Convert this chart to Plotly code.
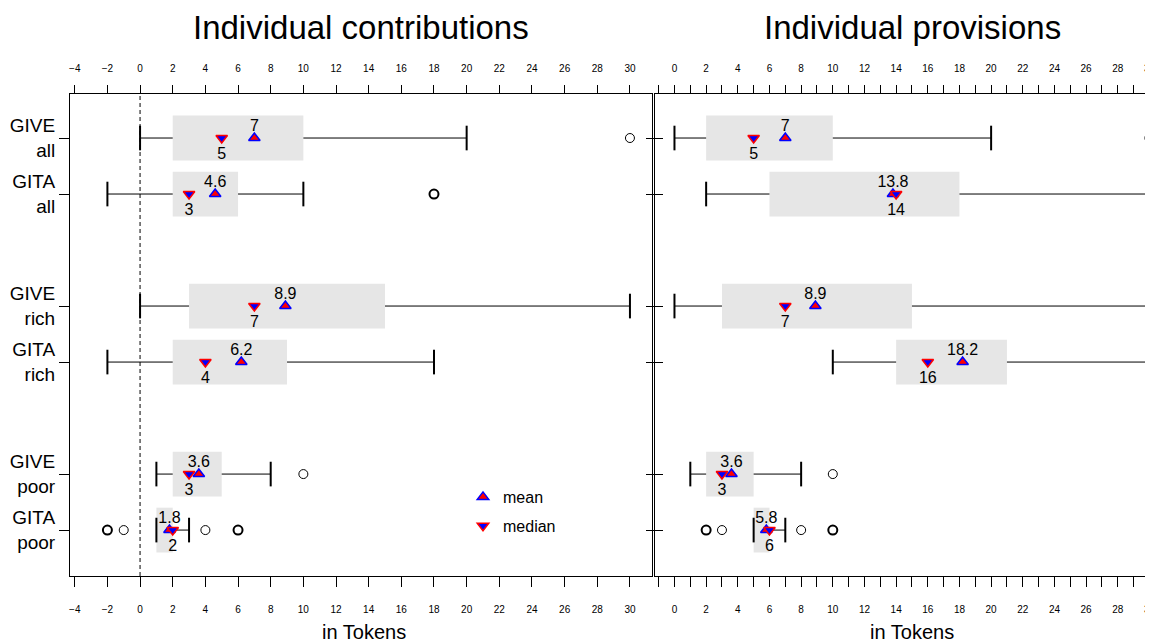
import plotly.graph_objects as go

groups = ["GIVE<br>all", "GITA<br>all", "GIVE<br>rich", "GITA<br>rich", "GIVE<br>poor", "GITA<br>poor"]
ypos = [0, 1, 3, 4, 6, 7]

# Individual contributions
c_lo = [0, -2, 0, -2, 1, 1]
c_q1 = [2, 2, 3, 2, 2, 1]
c_q3 = [10, 6, 15, 9, 5, 2]
c_hi = [20, 10, 30, 18, 8, 3]
c_mean = [7, 4.6, 8.9, 6.2, 3.6, 1.8]
c_median = [5, 3, 7, 4, 3, 2]
c_out = [[30], [18, 18], [], [], [10], [-2, -2, -1, 4, 6, 6]]

# Individual provisions
p_lo = [0, 2, 0, 10, 1, 5]
p_q1 = [2, 6, 3, 14, 2, 5]
p_q3 = [10, 18, 15, 21, 5, 6]
p_hi = [20, 30, 30, 30, 8, 7]
p_mean = [7, 13.8, 8.9, 18.2, 3.6, 5.8]
p_median = [5, 14, 7, 16, 3, 6]
p_out = [[30], [], [], [], [10], [2, 2, 3, 8, 10, 10]]

W, H = 1153, 644
OFF = 8  # page body margin in the browser
FONT = "Liberation Sans, Arial, Helvetica, sans-serif"
CAP = 0.22


def fx(px):
    return (px - OFF) / W


def fy(py):
    return 1 - (py - OFF) / H


fig = go.Figure()


def add_panel(lo, q1, q3, hi, mean, median, outs, xa, ya, legend):
    # boxes
    fig.add_trace(go.Bar(
        y=ypos, x=[b - a for a, b in zip(q1, q3)], base=q1, orientation="h",
        width=0.8, marker=dict(color="#e6e6e6", line=dict(width=0)),
        showlegend=False, hoverinfo="skip", xaxis=xa, yaxis=ya))
    # whiskers
    wx, wy = [], []
    for y, a, b, c, d in zip(ypos, lo, q1, q3, hi):
        wx += [a, b, None, c, d, None]
        wy += [y, y, None, y, y, None]
    fig.add_trace(go.Scatter(x=wx, y=wy, mode="lines", line=dict(color="black", width=1),
                             showlegend=False, hoverinfo="skip", xaxis=xa, yaxis=ya))
    # caps
    cx, cy = [], []
    for y, a, d in zip(ypos, lo, hi):
        cx += [a, a, None, d, d, None]
        cy += [y - CAP, y + CAP, None, y - CAP, y + CAP, None]
    fig.add_trace(go.Scatter(x=cx, y=cy, mode="lines", line=dict(color="black", width=2),
                             showlegend=False, hoverinfo="skip", xaxis=xa, yaxis=ya))
    # outliers
    ox, oy, ow = [], [], []
    for y, vals in zip(ypos, outs):
        for v in sorted(set(vals)):
            ox.append(v)
            oy.append(y)
            ow.append(2 if vals.count(v) > 1 else 1)
    fig.add_trace(go.Scatter(x=ox, y=oy, mode="markers",
                             marker=dict(symbol="circle-open", size=9, color="black",
                                         line=dict(width=ow, color="black")),
                             showlegend=False, hoverinfo="skip", xaxis=xa, yaxis=ya))
    # mean markers
    fig.add_trace(go.Scatter(x=mean, y=ypos, mode="markers", name="mean",
                             marker=dict(symbol="triangle-up", size=10, color="red",
                                         line=dict(color="blue", width=1.5)),
                             showlegend=legend, legendgroup="a", xaxis=xa, yaxis=ya))
    # median markers
    fig.add_trace(go.Scatter(x=median, y=ypos, mode="markers", name="median",
                             marker=dict(symbol="triangle-down", size=10, color="blue",
                                         line=dict(color="red", width=1.5)),
                             showlegend=legend, legendgroup="b", xaxis=xa, yaxis=ya))
    # labels (invisible markers set the text offset)
    fig.add_trace(go.Scatter(x=mean, y=ypos, mode="markers+text", text=[f"{v:g}" for v in mean],
                             textposition="top center",
                             marker=dict(size=4, color="rgba(0,0,0,0)"),
                             textfont=dict(size=16, color="black", family=FONT),
                             showlegend=False, hoverinfo="skip", xaxis=xa, yaxis=ya))
    fig.add_trace(go.Scatter(x=median, y=ypos, mode="markers+text", text=[f"{v:g}" for v in median],
                             textposition="bottom center",
                             marker=dict(size=12, color="rgba(0,0,0,0)"),
                             textfont=dict(size=16, color="black", family=FONT),
                             showlegend=False, hoverinfo="skip", xaxis=xa, yaxis=ya))


add_panel(c_lo, c_q1, c_q3, c_hi, c_mean, c_median, c_out, "x", "y", True)
add_panel(p_lo, p_q1, p_q3, p_hi, p_mean, p_median, p_out, "x2", "y2", False)

# ranges
L_RANGE = [-4.29, 31.35]
R_RANGE = [-1.23, 30.73]
Y_RANGE = [7.82, -0.786]
ydom = [fy(576), fy(94)]
ldom = [fx(70), fx(652)]
rdom = [fx(655), 1.0]

tickfont = dict(size=10, color="black", family=FONT)
lticks = list(range(-4, 31, 2))
rticks = list(range(0, 31, 2))

common_x = dict(showgrid=False, zeroline=False, ticks="outside", tickcolor="black",
                tickwidth=1, tickfont=tickfont, fixedrange=True, automargin=False)

fig.update_layout(
    width=W, height=H,
    margin=dict(l=0, r=0, t=0, b=0, autoexpand=False),
    paper_bgcolor="white", plot_bgcolor="white",
    barmode="overlay",
    font=dict(family=FONT, color="black"),
    xaxis=dict(domain=ldom, range=L_RANGE, anchor="y", tickvals=lticks, ticklen=10,
               ticklabelstandoff=14,
               showline=True, linecolor="black", linewidth=1, mirror=True, **common_x),
    xaxis3=dict(overlaying="x", side="top", range=L_RANGE, anchor="y", tickvals=lticks,
                ticklen=8, ticklabelstandoff=9, showline=False, **common_x),
    xaxis2=dict(domain=rdom, range=R_RANGE, anchor="y2", tickvals=rticks, ticklen=10,
                ticklabelstandoff=14,
                minor=dict(dtick=1, tick0=0, ticks="outside", ticklen=10, tickcolor="black"),
                showline=True, linecolor="black", linewidth=1, mirror=True, **common_x),
    xaxis4=dict(overlaying="x2", side="top", range=R_RANGE, anchor="y2", tickvals=rticks,
                ticklen=8, ticklabelstandoff=9,
                minor=dict(dtick=1, tick0=0, ticks="outside", ticklen=8, tickcolor="black"),
                showline=False, **common_x),
    yaxis=dict(domain=ydom, range=Y_RANGE, anchor="x", tickvals=ypos, ticktext=groups,
               ticks="outside", ticklen=10, tickcolor="black", showline=True, linecolor="black",
               mirror="ticks", showgrid=False, zeroline=False, automargin=False,
               tickfont=dict(size=19, color="black", family=FONT), fixedrange=True),
    yaxis2=dict(domain=ydom, range=Y_RANGE, anchor="x2", tickvals=ypos, showticklabels=False,
                ticks="outside", ticklen=8, tickcolor="black", showline=True, linecolor="black",
                mirror=False, showgrid=False, zeroline=False, fixedrange=True, automargin=False),
    legend=dict(x=fx(463), y=fy(480), xanchor="left", yanchor="top",
                bgcolor="rgba(0,0,0,0)", font=dict(size=16, color="black", family=FONT),
                tracegroupgap=5),
    showlegend=True,
)

# invisible traces binding the top axes
fig.add_trace(go.Scatter(x=[None], y=[None], xaxis="x3", yaxis="y", showlegend=False))
fig.add_trace(go.Scatter(x=[None], y=[None], xaxis="x4", yaxis="y2", showlegend=False))

# zero reference line in contributions panel
fig.add_shape(type="line", xref="x", yref="paper", x0=0, x1=0, y0=ydom[0], y1=ydom[1],
              line=dict(color="black", width=1, dash="4px,3px"))

# titles
ann_font = dict(color="black", family=FONT)
for txt, xp, yp, sz in [("Individual contributions", 361, 28, 33),
                        ("Individual provisions", 912, 28, 33),
                        ("in Tokens", 364, 632, 20),
                        ("in Tokens", 912, 632, 20)]:
    fig.add_annotation(text=txt, x=fx(xp), y=fy(yp), xref="paper", yref="paper",
                       xanchor="center", yanchor="middle", showarrow=False,
                       font=dict(size=sz, **ann_font))

fig.write_html("out.html")
